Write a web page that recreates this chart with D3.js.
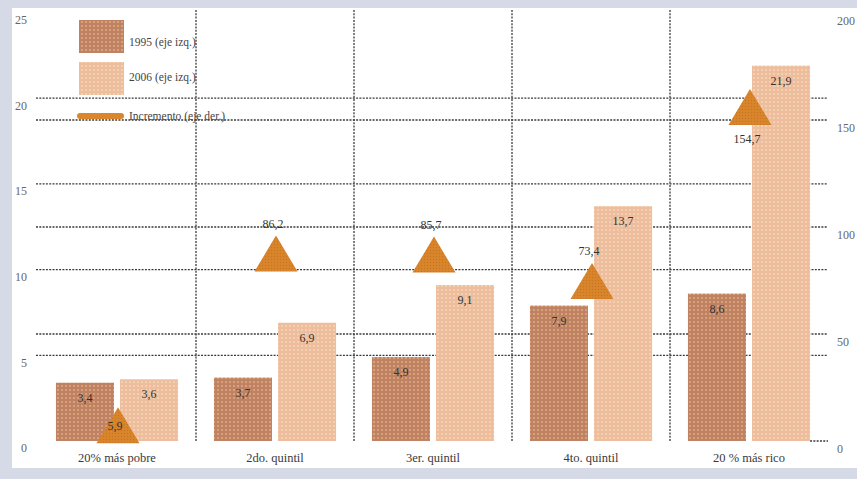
<!DOCTYPE html>
<html>
<head>
<meta charset="utf-8">
<script src="https://cdn.jsdelivr.net/npm/d3@7"></script>
<style>
html,body{margin:0;padding:0;background:#d6d9e6;}
svg{display:block;}
text{font-family:"Liberation Serif","Times New Roman",serif;}
</style>
</head>
<body>
<script>
// ---- data ----
const categories = ["20% más pobre", "2do. quintil", "3er. quintil", "4to. quintil", "20 % más rico"];
const series = ["1995 (eje izq.)", "2006 (eje izq.)"];
const values1995 = [3.4, 3.7, 4.9, 7.9, 8.6];
const values2006 = [3.6, 6.9, 9.1, 13.7, 21.9];
const incremento = [5.9, 86.2, 85.7, 73.4, 154.7];
const incrementoLabel = "Incremento (eje der.)";
const leftTicks = [0, 5, 10, 15, 20, 25];
const rightTicks = [0, 50, 100, 150, 200];

const fmt = v => String(v).replace(".", ",");

const W = 857, H = 479;
const svg = d3.select("body").append("svg").attr("width", W).attr("height", H);

// patterns
const defs = svg.append("defs");
function dotPattern(id, bg, dot, size, r) {
  const p = defs.append("pattern").attr("id", id).attr("patternUnits", "userSpaceOnUse")
    .attr("width", size).attr("height", size);
  p.append("rect").attr("width", size).attr("height", size).attr("fill", bg);
  p.append("circle").attr("cx", size / 2).attr("cy", size / 2).attr("r", r).attr("fill", dot);
}
dotPattern("p1995", "#c08264", "#e2ad7c", 4, 1.0);
dotPattern("p2006", "#eebc9e", "#f6dcb0", 4, 0.9);
dotPattern("pInc", "#d9852a", "#c7742a", 3, 0.7);

// panel
svg.append("rect").attr("x", 12).attr("y", 8).attr("width", W - 12).attr("height", 460).attr("fill", "#ffffff");

// scales
const yL = d3.scaleLinear().domain([0, 25]).range([441, 12.5]);
const yR = d3.scaleLinear().domain([0, 200]).range([441, 13]);
const x0 = d3.scaleBand().domain(categories).range([38, 828]).padding(0);
const x1 = d3.scaleBand().domain(series).range([0, x0.bandwidth()]).paddingInner(0.094).paddingOuter(0.28);

const gridColor = "#3a3a3a";
const gridW = 1.3, gridDash = "2,1.3";
const grid = svg.append("g");
// horizontal grid (left axis)
grid.selectAll("line.gl").data(leftTicks.filter(t => t > 0 && t < 25)).join("line")
  .attr("x1", 36).attr("x2", 828).attr("y1", d => yL(d)).attr("y2", d => yL(d))
  .attr("stroke", gridColor).attr("stroke-width", gridW).attr("stroke-dasharray", gridDash);
// horizontal grid (right axis)
grid.selectAll("line.gr").data(rightTicks.filter(t => t > 0 && t < 200)).join("line")
  .attr("x1", 36).attr("x2", 828).attr("y1", d => yR(d)).attr("y2", d => yR(d))
  .attr("stroke", gridColor).attr("stroke-width", gridW).attr("stroke-dasharray", gridDash);
// vertical separators
grid.selectAll("line.v").data(categories.slice(1)).join("line")
  .attr("x1", d => x0(d)).attr("x2", d => x0(d)).attr("y1", 10).attr("y2", 441)
  .attr("stroke", gridColor).attr("stroke-width", gridW).attr("stroke-dasharray", gridDash);
// short baseline piece at right end
grid.append("line").attr("x1", x0(categories[4]) + x1(series[1]) + x1.bandwidth()).attr("x2", 828)
  .attr("y1", yL(0)).attr("y2", yL(0))
  .attr("stroke", gridColor).attr("stroke-width", gridW).attr("stroke-dasharray", gridDash);

// axes
const axL = d3.axisLeft(yL).tickValues(leftTicks).tickSize(0).tickPadding(0).tickFormat(d => d);
const gL = svg.append("g").attr("transform", "translate(27,7)").call(axL).attr("color", "#666");
gL.select(".domain").remove();
gL.selectAll("text").attr("font-size", 12).attr("fill", "#666")
  .style("font-family", "'Liberation Serif', serif");

const axR = d3.axisRight(yR).tickValues(rightTicks).tickSize(0).tickPadding(0).tickFormat(d => d);
const gR = svg.append("g").attr("transform", "translate(837,8)").call(axR).attr("color", "#666");
gR.select(".domain").remove();
gR.selectAll("text").attr("font-size", 12).attr("fill", "#666")
  .style("font-family", "'Liberation Serif', serif");

// bars
const rows = categories.map((c, i) => ({ c, vals: [values1995[i], values2006[i]] }));
const fills = ["url(#p1995)", "url(#p2006)"];
const gBars = svg.append("g");
rows.forEach(r => {
  r.vals.forEach((v, j) => {
    const x = x0(r.c) + x1(series[j]);
    gBars.append("rect").attr("x", x).attr("y", yL(v)).attr("width", x1.bandwidth())
      .attr("height", yL(0) - yL(v)).attr("fill", fills[j]);
    gBars.append("text").attr("x", x + x1.bandwidth() / 2).attr("y", yL(v) + 19)
      .attr("text-anchor", "middle").attr("font-size", 12).attr("fill", "#333")
      .text(fmt(v));
  });
});

// incremento triangles
const triW = 43, triH = 36;
const gInc = svg.append("g");
incremento.forEach((v, i) => {
  const cx = x0(categories[i]) + x0.bandwidth() / 2 + 1;
  const cy = yR(v) - 3;
  const top = cy - triH / 2, bot = cy + triH / 2;
  gInc.append("path")
    .attr("d", `M${cx},${top}L${cx + triW / 2},${bot}L${cx - triW / 2},${bot}Z`)
    .attr("fill", "url(#pInc)");
  let ly;
  if (i === 0) ly = cy + 5;             // inside
  else if (i === 4) ly = bot + 18;      // below
  else ly = top - 8;                    // above
  gInc.append("text").attr("x", cx - 3).attr("y", ly).attr("text-anchor", "middle")
    .attr("font-size", 12).attr("fill", "#333").text(fmt(v));
});

// category labels
svg.append("g").selectAll("text").data(categories).join("text")
  .attr("x", d => x0(d) + x0.bandwidth() / 2).attr("y", 462)
  .attr("text-anchor", "middle").attr("font-size", 12.5).attr("fill", "#3a3a3a")
  .text(d => d);

// legend
const lg = svg.append("g");
lg.append("rect").attr("x", 79).attr("y", 20).attr("width", 45).attr("height", 33).attr("fill", "url(#p1995)");
lg.append("rect").attr("x", 79).attr("y", 62).attr("width", 45).attr("height", 33).attr("fill", "url(#p2006)");
lg.append("line").attr("x1", 80).attr("x2", 121).attr("y1", 116).attr("y2", 116)
  .attr("stroke", "#d9862e").attr("stroke-width", 6).attr("stroke-linecap", "round");
const legendTexts = [series[0], series[1], incrementoLabel];
const legendY = [46, 81, 120];
legendTexts.forEach((t, i) => {
  lg.append("text").attr("x", 129).attr("y", legendY[i]).attr("font-size", 11.5)
    .attr("fill", "#444").text(t);
});
</script>
</body>
</html>
